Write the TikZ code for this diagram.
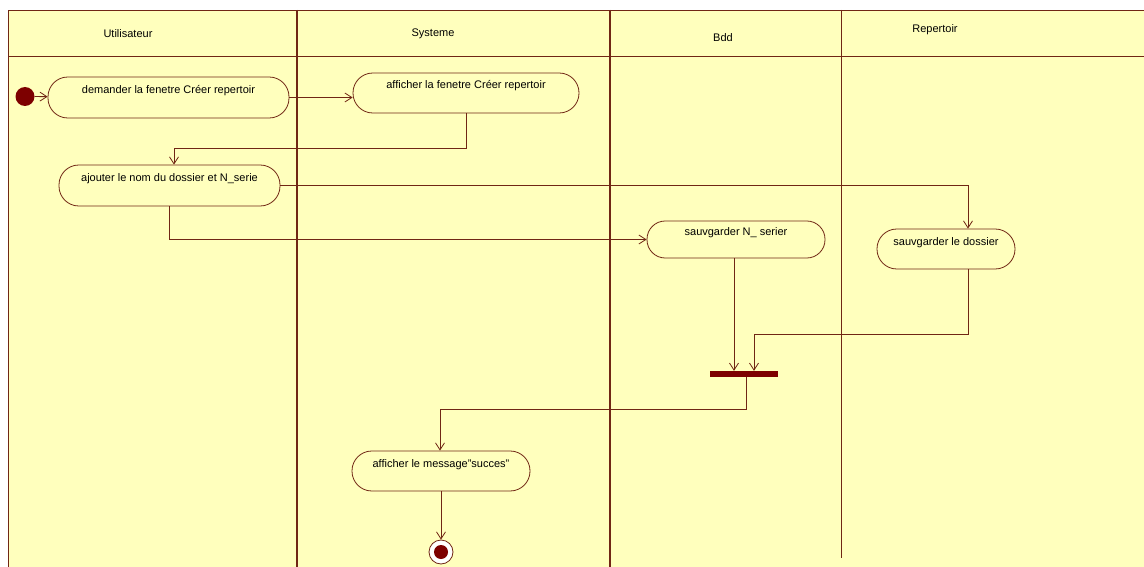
\documentclass[tikz,border=0pt]{standalone}
\usepackage{fontspec}
\setmainfont{Liberation Sans}
\usetikzlibrary{arrows.meta}
\definecolor{lane}{RGB}{255,255,189}
\definecolor{ink}{RGB}{112,38,20}
\definecolor{blob}{RGB}{125,0,0}

\begin{document}
\begin{tikzpicture}[x=1pt,y=-1pt,
  font=\fontsize{11}{13}\selectfont,
  flow/.style={draw=ink, line width=0.8pt, -{Straight Barb[length=7pt,width=9pt]}},
  action/.style={draw=ink, line width=0.8pt, rectangle, rounded corners=19.8pt,
    inner sep=0pt, text height=8.5pt, text depth=16.5pt},
  lanetitle/.style={inner sep=0pt},
  laneline/.style={draw=ink, line width=0.9pt},
  solid dot/.style={circle, fill=blob, inner sep=0pt}]

% canvas and swimlane frame
\useasboundingbox (0,0) rectangle (1144,567);
\fill[white] (0,0) rectangle (1144,567);
\fill[lane] (8,10) rectangle (1144,567);
\draw[laneline] (8,567) -- (8,10) -- (1144,10);
\draw[laneline] (8,56) -- (1144,56);
\draw[laneline, line width=1.4pt] (297,10) -- (297,567);
\draw[laneline, line width=1.4pt] (610,10) -- (610,567);
\draw[laneline] (841,10) -- (841,558);

% lane titles
\node[lanetitle] (tU) at (128,34) {Utilisateur};
\node[lanetitle] (tS) at (433,34) {Systeme};
\node[lanetitle] (tB) at (723,38) {Bdd};
\node[lanetitle] (tR) at (935,30) {Repertoir};

% start, actions, join bar, end
\node[solid dot, minimum size=19pt] (init) at (25,96.5) {};
\node[action, minimum width=241pt, minimum height=41pt] (a1) at (168.5,97.5) {demander la fenetre Créer repertoir};
\node[action, minimum width=226pt, minimum height=40pt] (a2) at (466,93) {afficher la fenetre Créer repertoir};
\node[action, minimum width=221pt, minimum height=41pt] (a3) at (169.5,185.5) {ajouter le nom du dossier et N\_serie};
\node[action, minimum width=178pt, minimum height=37pt, rounded corners=18.2pt] (a4) at (736,239.5) {sauvgarder N\_ serier};
\node[action, minimum width=138pt, minimum height=40pt] (a5) at (946,249) {sauvgarder le dossier};
\node[action, minimum width=178pt, minimum height=40pt] (a6) at (441,471) {afficher le message"succes"};
\node[fill=blob, minimum width=68pt, minimum height=6pt, inner sep=0pt] (join) at (744,374) {};
\node[circle, draw=ink, fill=white, line width=0.8pt, minimum size=24pt, inner sep=0pt] (fin) at (441,552) {};
\node[solid dot, minimum size=14pt] (fincore) at (fin) {};

% control flow
\draw[flow] (init) -- (a1);
\draw[flow] (a1.east) -- (a2.west |- a1.east);
\draw[flow] (a2.south) -- ++(0,35) -| ([xshift=4.5pt]a3.north);
\draw[flow] (a3.east) -| ([xshift=22pt]a5.north);
\draw[flow] (a3.south) |- (a4.west);
\draw[flow] ([xshift=-2pt]a4.south) -- ([xshift=-2pt]a4.south |- join.north);
\draw[flow] ([xshift=22pt]a5.south) -- ++(0,65) -| ([xshift=10pt]join.north);
\draw[flow] ([xshift=2pt]join.south) -- ++(0,32) -| ([xshift=-1pt]a6.north);
\draw[flow] (a6.south) -- (fin.north);
\end{tikzpicture}
\end{document}
